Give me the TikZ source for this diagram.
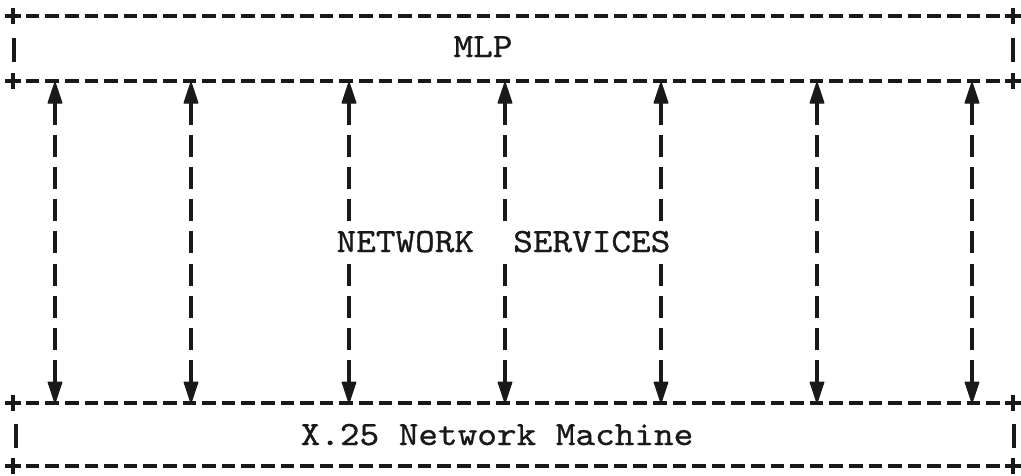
\documentclass[tikz,border=0pt]{standalone}
\usepackage{fontspec}
\newfontfamily\typewriter[FakeBold=0.8,FakeStretch=1.1]{lmmono10-regular.otf}
\usetikzlibrary{calc}
\definecolor{ink}{gray}{0.1}
\begin{document}
\begin{tikzpicture}[x=1pt,y=-1pt,
  rule/.style={draw=ink, line width=3.2pt, dash pattern=on 13.5pt off 6.1pt},
  cross/.style={draw=ink, line width=3.2pt},
  bar/.style={draw=ink, line width=3.2pt},
  shaft/.style={draw=ink, line width=3.4pt, dash pattern=on 22pt off 10.1pt},
  shaftgap/.style={draw=ink, line width=3.4pt,
    dash pattern=on 22pt off 10.1pt on 22pt off 10.1pt on 22pt off 10.1pt on 22pt off 42.2pt
                 on 22pt off 10.1pt on 22pt off 10.1pt on 22pt off 10.1pt on 22pt off 10.1pt},
  head/.style={fill=ink, draw=ink, line width=1pt, line join=round},
  label/.style={inner sep=0pt, anchor=base, text=ink,
    font=\typewriter\fontsize{34}{38}\selectfont}]
\useasboundingbox (0,0) rectangle (1021,475);

% dashed rules with a plus sign at each end
\foreach \y in {16,81,403,466} {
  \draw[rule] (25.85,\y) -- (999.75,\y);
  \draw[cross] (5,\y) -- (21,\y) (13,\y-8) -- (13,\y+8);
  \draw[cross] (1005,\y) -- (1021,\y) (1013,\y-8) -- (1013,\y+8);
}

% side strokes of the two layer boxes
\draw[bar] (14,37.5) -- (14,61.5);
\draw[bar] (1013,37.5) -- (1013,61.5);
\draw[bar] (16,424) -- (16,448);
\draw[bar] (1014,424) -- (1014,448);

% layer labels
\node[label] (mlp) at (483,57) {MLP};
\node[label] (svc) at (503.5,252) {NETWORK\ \ SERVICES};
\node[label] (x25) at (497,445) {X.25 Network Machine};

% two-way service arrows between the layers
\foreach \x/\s in {55/shaft,191/shaft,349/shaftgap,505/shaftgap,661/shaftgap,817/shaft,972/shaft} {
  \coordinate (up\x) at (\x,82);
  \coordinate (dn\x) at (\x,403);
  \draw[\s] ($(up\x)+(0,21)$) -- ($(dn\x)+(0,-21)$);
  \filldraw[head] (up\x) -- ++(-7,21) -- ++(14,0) -- cycle;
  \filldraw[head] (dn\x) -- ++(-7,-21) -- ++(14,0) -- cycle;
}
\end{tikzpicture}
\end{document}
